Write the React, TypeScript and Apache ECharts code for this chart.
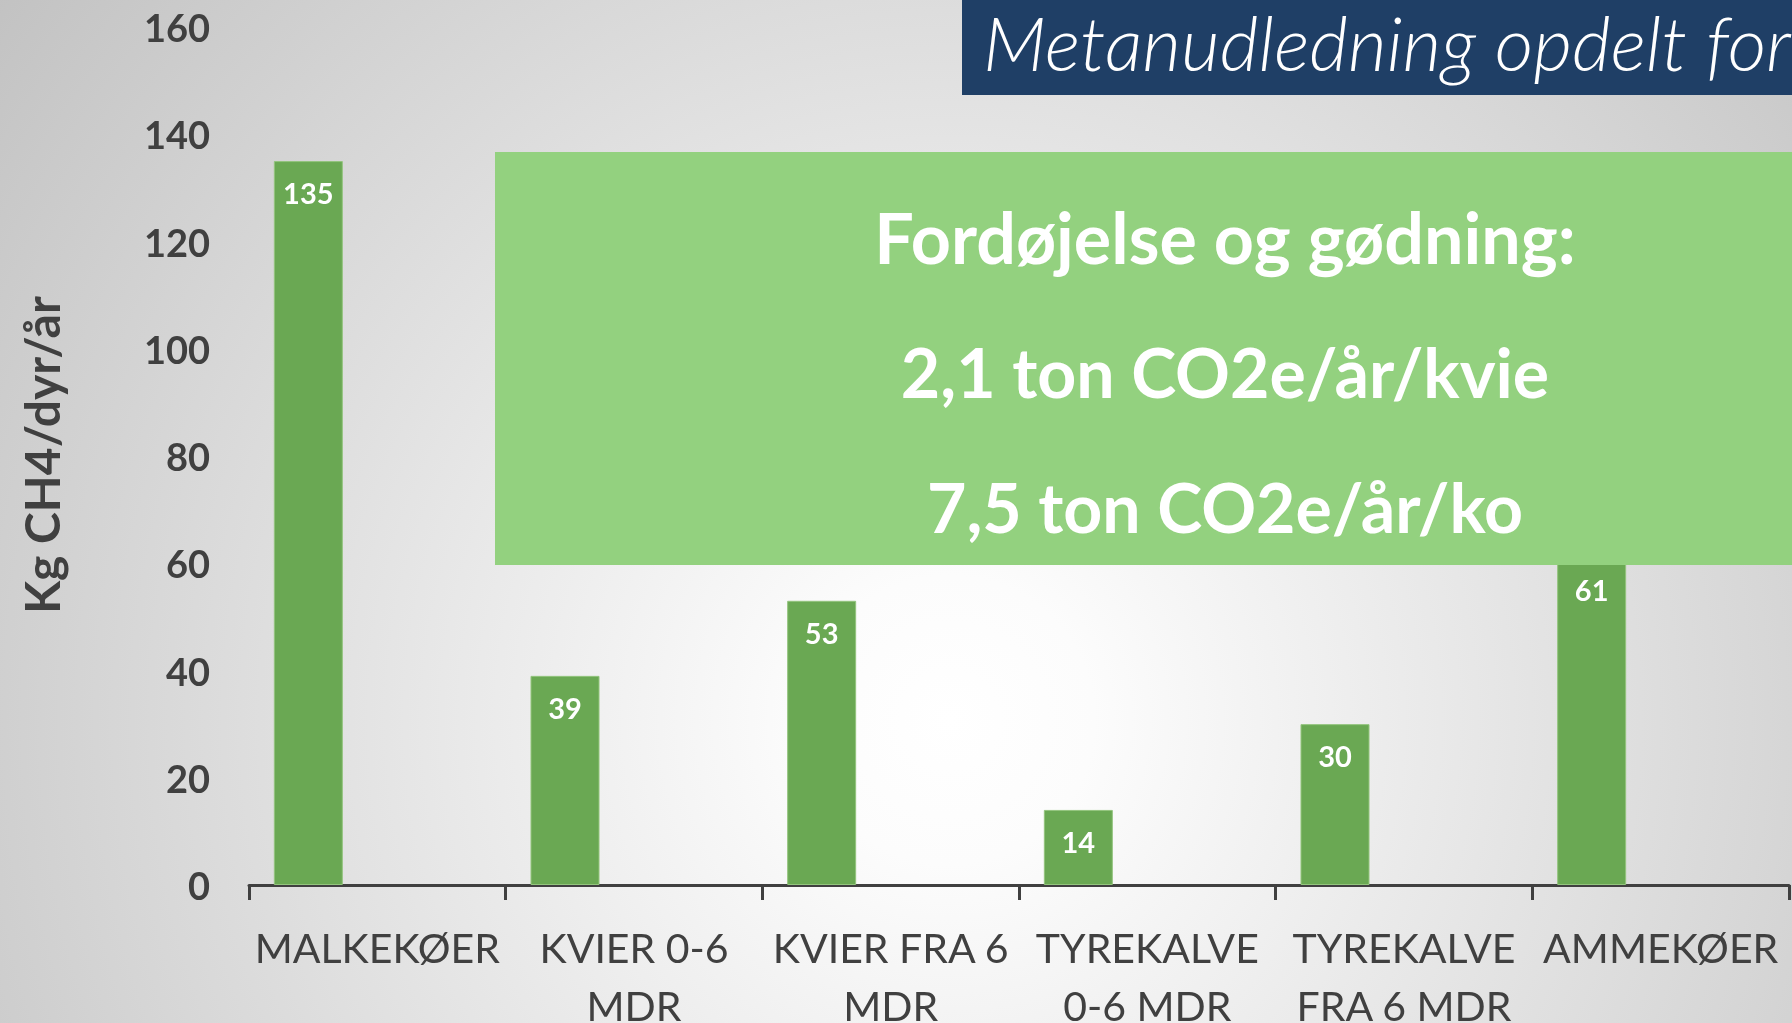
import React, { useEffect, useRef } from "react";
import * as echarts from "echarts";

// ---- Data ----
const categories = [
  "MALKEKØER",
  "KVIER 0-6\nMDR",
  "KVIER FRA 6\nMDR",
  "TYREKALVE\n0-6 MDR",
  "TYREKALVE\nFRA 6 MDR",
  "AMMEKØER",
];
const methaneKgPerAnimal = [135, 39, 53, 14, 30, 61];
// Excel chart holds two further (empty) series that reserve space beside each bar
const emptySeriesB = [null, null, null, null, null, null];
const emptySeriesC = [null, null, null, null, null, null];

const yMin = 0;
const yMax = 160;
const yInterval = 20;

const yAxisTitle = "Kg CH4/dyr/år";
const slideTitle = "Metanudledning opdelt for";
const boxLines = [
  "Fordøjelse og gødning:",
  "2,1 ton CO2e/år/kvie",
  "7,5 ton CO2e/år/ko",
];

const FONT = "Lato, 'Open Sans', 'DejaVu Sans', sans-serif";
const TEXT_DARK = "#404040";

export default function App() {
  const ref = useRef<HTMLDivElement>(null);

  useEffect(() => {
    if (!ref.current) return;
    const chart = echarts.init(ref.current, undefined, { renderer: "svg" });

    const boxTextY = [237, 371, 506];
    const boxTextSize = [70, 68, 68];

    const option: any = {
      animation: false,
      backgroundColor: {
        type: "radial",
        x: 950,
        y: 720,
        r: 1200,
        global: true,
        colorStops: [
          { offset: 0, color: "#ffffff" },
          { offset: 0.12, color: "#fcfcfc" },
          { offset: 1, color: "#c2c2c2" },
        ],
      },
      grid: {
        left: 249,
        right: 3,
        top: 27,
        bottom: 138,
        containLabel: false,
        outerBoundsMode: "none",
      },
      xAxis: {
        type: "category",
        data: categories,
        axisLine: { show: true, lineStyle: { color: TEXT_DARK, width: 3 } },
        axisTick: { show: true, length: 15, lineStyle: { color: TEXT_DARK, width: 3 } },
        axisLabel: {
          interval: 0,
          fontFamily: FONT,
          fontSize: 41,
          lineHeight: 58,
          color: TEXT_DARK,
          margin: 33,
        },
        splitLine: { show: false },
      },
      yAxis: {
        type: "value",
        min: yMin,
        max: yMax,
        interval: yInterval,
        axisLine: { show: false },
        axisTick: { show: false },
        splitLine: { show: false },
        axisLabel: {
          fontFamily: FONT,
          fontWeight: "bold",
          fontSize: 38,
          color: TEXT_DARK,
          margin: 39,
        },
      },
      series: [
        {
          type: "bar",
          data: methaneKgPerAnimal,
          barWidth: 69,
          barGap: "0%",
          itemStyle: { color: "#6aa853", borderColor: "#93c47d", borderWidth: 1 },
          label: {
            show: true,
            position: "insideTop",
            distance: 17,
            color: "#ffffff",
            fontFamily: FONT,
            fontWeight: "bold",
            fontSize: 29,
          },
        },
        { type: "bar", data: emptySeriesB, barWidth: 69, barGap: "0%" },
        { type: "bar", data: emptySeriesC, barWidth: 69, barGap: "0%" },
      ],
      graphic: [
        {
          type: "rect",
          z: 100,
          shape: { x: 962, y: 0, width: 830, height: 95 },
          style: { fill: "#1f3f66" },
        },
        {
          type: "text",
          z: 101,
          x: 983,
          y: 42,
          style: {
            text: slideTitle,
            fill: "#ffffff",
            fontFamily: FONT,
            fontStyle: "italic",
            fontWeight: 300,
            fontSize: 75,
            align: "left",
            verticalAlign: "middle",
          },
        },
        {
          type: "rect",
          z: 100,
          shape: { x: 495, y: 152, width: 1297, height: 413 },
          style: { fill: "#93d17f" },
        },
        ...boxLines.map((t, i) => ({
          type: "text",
          z: 101,
          x: 1225,
          y: boxTextY[i],
          style: {
            text: t,
            fill: "#ffffff",
            fontFamily: FONT,
            fontWeight: "bold",
            fontSize: boxTextSize[i],
            align: "center",
            verticalAlign: "middle",
          },
        })),
        {
          type: "text",
          z: 101,
          x: 41,
          y: 455,
          rotation: Math.PI / 2,
          style: {
            text: yAxisTitle,
            fill: TEXT_DARK,
            fontFamily: FONT,
            fontWeight: "bold",
            fontSize: 48,
            align: "center",
            verticalAlign: "middle",
          },
        },
      ],
    };

    chart.setOption(option);
    return () => {
      chart.dispose();
    };
  }, []);

  return (
    <div
      ref={ref}
      style={{ position: "fixed", left: 0, top: 0, width: "1792px", height: "1023px" }}
    />
  );
}
